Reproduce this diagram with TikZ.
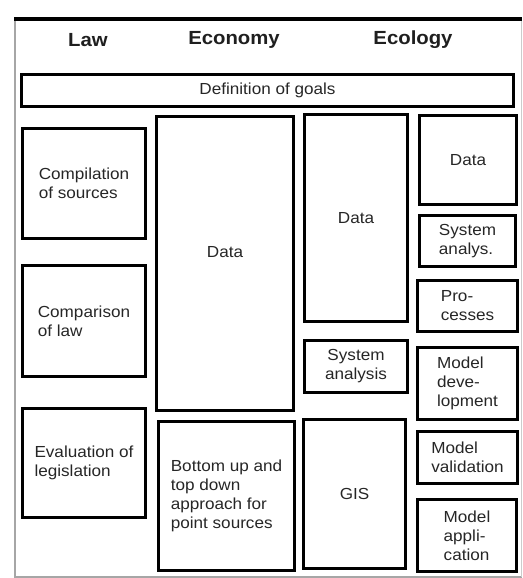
\documentclass[tikz,border=0pt]{standalone}
\usepackage{fontspec}
\setmainfont{Liberation Sans}[FakeStretch=1.07]
\begin{document}
\begin{tikzpicture}[x=1pt,y=-1pt,
  box/.style={draw=black,line width=3.5pt,inner sep=0pt,align=left,
    text=black!85,font=\fontsize{16}{19}\selectfont},
  boxc/.style={box,align=center},
  head/.style={text=black!88,font=\fontsize{19}{22}\selectfont\bfseries},
  txt/.style={text=black!85,font=\fontsize{16}{19}\selectfont}]
\useasboundingbox (0,0) rectangle (522,578);
% frame
\draw[black!35,line width=1.2pt] (15,20) -- (15,577) -- (522,577);
\draw[black!20,line width=1pt] (521,20) -- (521,577);
\draw[black,line width=4pt] (14,19.5) -- (522,19.5);
% headings
\node[head] (law) at (88,40) {Law};
\node[head] (eco) at (234,40) {Economy};
\node[head] (ecol) at (413,40) {Ecology};
% goals
\node[boxc,minimum width=492,minimum height=32] (goals) at (267.5,90.5) {Definition of goals};
% law column
\node[box,minimum width=123,minimum height=110] (comp) at (84,183.5) {Compilation\\of sources};
\node[box,minimum width=123,minimum height=111] (compar) at (84,321) {Comparison\\of law};
\node[box,minimum width=123,minimum height=109] (evalu) at (84,463) {Evaluation of\\legislation};
% economy column
\node[box,minimum width=137,minimum height=294] (econdata) at (225,263.5) {};
\node[txt] (econdatatext) at (225,252) {Data};
\node[box,minimum width=136,minimum height=149] (bottom) at (226.5,496) {Bottom up and\\top down\\approach for\\point sources};
% ecology middle column
\node[boxc,minimum width=103,minimum height=207] (ecodata) at (356,218) {Data};
\node[boxc,minimum width=103,minimum height=52] (sysan) at (356,366.5) {System\\analysis};
\node[boxc,minimum width=102,minimum height=149] (gis) at (354.5,494) {GIS};
% ecology right column
\node[boxc,minimum width=97,minimum height=89] (rdata) at (468,160) {Data};
\node[box,minimum width=96,minimum height=51] (rsys) at (467.5,241) {System\\analys.};
\node[box,minimum width=100,minimum height=51] (proc) at (467.5,306) {Pro-\\cesses};
\node[box,minimum width=100,minimum height=72] (mdev) at (467.5,383.5) {Model\\deve-\\lopment};
\node[box,minimum width=100,minimum height=52] (mval) at (467.5,457.5) {Model\\validation};
\node[box,minimum width=99,minimum height=72] (mapp) at (467,535.5) {Model\\appli-\\cation};
\end{tikzpicture}
\end{document}
